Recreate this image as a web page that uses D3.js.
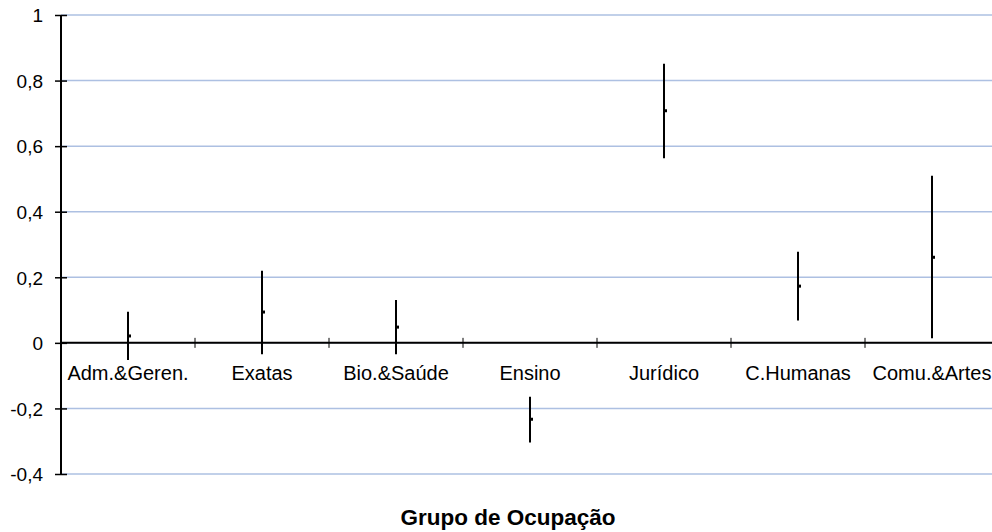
<!DOCTYPE html>
<html>
    <head>
        <meta charset="utf-8">
        <script src="https://cdn.jsdelivr.net/npm/d3@7"></script>
        <style>
            body { margin: 0; background: #fff; }
            text { font-family: "Liberation Sans", Arial, sans-serif; }
        </style>
        <script>
            var grupos = ["Adm.&Geren.", "Exatas", "Bio.&Saúde", "Ensino", "Jurídico", "C.Humanas", "Comu.&Artes"];
            var alto   = [0.095, 0.22, 0.131, -0.164, 0.851, 0.278, 0.51];
            var baixo  = [-0.052, -0.035, -0.035, -0.304, 0.563, 0.068, 0.014];
            var medio  = [0.021, 0.094, 0.048, -0.233, 0.708, 0.173, 0.261];
            var yTicks = [-0.4, -0.2, 0, 0.2, 0.4, 0.6, 0.8, 1];

            function makeSVG() {
                var svg = d3.select("#fig");
                var fmt = d => String(+d.toFixed(1)).replace(".", ",");

                var xSc = d3.scaleBand().domain(grupos).range([61, 999]);
                var ySc = d3.scaleLinear().domain([-0.4, 1]).range([474, 15]);

                // gridlines
                svg.selectAll("line.grid")
                   .data(yTicks)
                   .enter()
                   .append("line")
                   .attr("class", "grid")
                   .attr("x1", 61).attr("x2", 999)
                   .attr("y1", d => ySc(d)).attr("y2", d => ySc(d))
                   .attr("stroke", "#adc0e2")
                   .attr("stroke-width", 1.5);

                // y axis
                var yAx = svg.append("g")
                             .attr("transform", "translate(61,0)")
                             .call(d3.axisLeft(ySc).tickValues(yTicks).tickFormat(fmt).tickSize(6).tickPadding(12));
                yAx.select(".domain").remove();
                yAx.selectAll(".tick line").attr("x2", 6).attr("x1", -6).attr("stroke", "#000").attr("stroke-width", 1.5);
                yAx.selectAll("text").attr("fill", "#000").attr("dy", "0.36em")
                   .style("font-size", "19px")
                   .style("font-family", "'Liberation Sans', Arial, sans-serif");
                svg.append("line")
                   .attr("x1", 61).attr("x2", 61)
                   .attr("y1", ySc(1)).attr("y2", ySc(-0.4))
                   .attr("stroke", "#000").attr("stroke-width", 2);

                // x axis at zero
                svg.append("line")
                   .attr("x1", 61).attr("x2", 999)
                   .attr("y1", ySc(0)).attr("y2", ySc(0))
                   .attr("stroke", "#000").attr("stroke-width", 2);
                svg.selectAll("line.xtick")
                   .data(grupos.slice(1))
                   .enter()
                   .append("line")
                   .attr("x1", d => xSc(d)).attr("x2", d => xSc(d))
                   .attr("y1", ySc(0) - 5).attr("y2", ySc(0) + 5)
                   .attr("stroke", "#000").attr("stroke-width", 1);
                svg.selectAll("text.xlab")
                   .data(grupos)
                   .enter()
                   .append("text")
                   .attr("x", d => xSc(d) + xSc.bandwidth() / 2)
                   .attr("y", ySc(0) + 37)
                   .attr("text-anchor", "middle")
                   .style("font-size", "20px")
                   .text(d => d);

                // high-low lines
                svg.selectAll("line.hl")
                   .data(grupos)
                   .enter()
                   .append("line")
                   .attr("x1", d => xSc(d) + xSc.bandwidth() / 2)
                   .attr("x2", d => xSc(d) + xSc.bandwidth() / 2)
                   .attr("y1", (d, i) => ySc(alto[i]))
                   .attr("y2", (d, i) => ySc(baixo[i]))
                   .attr("stroke", "#000").attr("stroke-width", 2);

                // close marks
                svg.selectAll("rect.mid")
                   .data(grupos)
                   .enter()
                   .append("rect")
                   .attr("x", d => xSc(d) + xSc.bandwidth() / 2)
                   .attr("y", (d, i) => ySc(medio[i]) - 1.5)
                   .attr("width", 3).attr("height", 3)
                   .attr("fill", "#000");

                svg.append("text")
                   .attr("x", 508).attr("y", 525)
                   .attr("text-anchor", "middle")
                   .style("font-size", "22.5px").style("font-weight", "bold")
                   .text("Grupo de Ocupação");
            }
        </script>
    </head>
    <body onload="makeSVG()">
        <svg id="fig" width="992" height="532"></svg>
    </body>
</html>
